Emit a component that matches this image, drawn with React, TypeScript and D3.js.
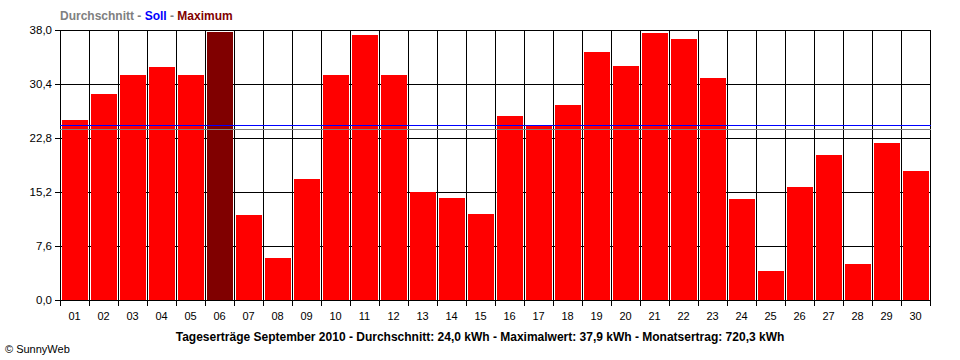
import React from "react";
import * as d3 from "d3";

const days = ["01","02","03","04","05","06","07","08","09","10","11","12","13","14","15","16","17","18","19","20","21","22","23","24","25","26","27","28","29","30"];
const yields = [25.4,29.0,31.6,32.8,31.7,37.9,11.9,5.9,17.1,31.6,37.3,31.6,15.2,14.4,12.1,25.9,24.7,27.5,34.9,33.0,37.6,36.8,31.2,14.2,4.1,15.9,20.4,5.0,22.1,18.2];
const yTicks = [0,7.6,15.2,22.8,30.4,38.0];
const average = 24.0;
const target = 24.6;
const title = "Tageserträge September 2010 - Durchschnitt: 24,0 kWh - Maximalwert: 37,9 kWh - Monatsertrag: 720,3 kWh";

export default function App() {
  const W = 960, H = 360;
  const left = 60, right = 930, top = 30, bottom = 300;
  const x = d3.scaleBand<string>().domain(days).range([left, right]).paddingInner(0).paddingOuter(0);
  const y = d3.scaleLinear().domain([0, 38]).range([bottom, top]);
  const fmt = (v: number) => v.toFixed(1).replace(".", ",");
  const font = "'Liberation Sans', Arial, sans-serif";
  const maxIdx = yields.indexOf(d3.max(yields) as number);
  const px = (v: number) => Math.round(v) + 0.5;

  return (
    <svg width={W} height={H} style={{ position: "absolute", left: 0, top: 0, background: "#fff" }} fontFamily={font}>
      <rect x={0} y={0} width={W} height={H} fill="#fff" />
      {days.map((d) => (
        <line key={"v" + d} x1={px(x(d) as number)} x2={px(x(d) as number)} y1={top} y2={bottom + 6} stroke="#000" strokeWidth={1} shapeRendering="crispEdges" />
      ))}
      <line x1={px(right)} x2={px(right)} y1={top} y2={bottom + 6} stroke="#000" strokeWidth={1} shapeRendering="crispEdges" />
      {yTicks.map((t) => (
        <line key={"h" + t} x1={left - 5} x2={right + 1} y1={px(y(t))} y2={px(y(t))} stroke="#000" strokeWidth={1} shapeRendering="crispEdges" />
      ))}
      {yields.map((v, i) => {
        const bx = (x(days[i]) as number) + 2;
        const by = Math.max(Math.round(y(v)), top + 2);
        return (
          <rect key={"b" + i} x={bx} y={by} width={x.bandwidth() - 3} height={bottom - by} fill={i === maxIdx ? "#800000" : "#ff0000"} shapeRendering="crispEdges" />
        );
      })}
      <line x1={left} x2={right + 1} y1={px(y(target))} y2={px(y(target))} stroke="#0000ff" strokeWidth={1} shapeRendering="crispEdges" />
      <line x1={left} x2={right + 1} y1={px(y(average))} y2={px(y(average))} stroke="#808080" strokeWidth={1} shapeRendering="crispEdges" />
      {yTicks.map((t) => (
        <text key={"yl" + t} x={52} y={y(t)} dy="0.35em" textAnchor="end" fontSize={11.5} fill="#000">{fmt(t)}</text>
      ))}
      {days.map((d) => (
        <text key={"xl" + d} x={(x(d) as number) + x.bandwidth() / 2} y={316} dy="0.35em" textAnchor="middle" fontSize={11} fill="#000">{d}</text>
      ))}
      <text x={60} y={16} dy="0.35em" fontSize={12} fontWeight="bold">
        <tspan fill="#808080">Durchschnitt - </tspan>
        <tspan fill="#0000ff">Soll</tspan>
        <tspan fill="#808080"> - </tspan>
        <tspan fill="#800000">Maximum</tspan>
      </text>
      <text x={480} y={337} dy="0.35em" textAnchor="middle" fontSize={12} fontWeight="bold" fill="#000">{title}</text>
      <text x={5} y={349} dy="0.35em" fontSize={11} fill="#000">© SunnyWeb</text>
    </svg>
  );
}
